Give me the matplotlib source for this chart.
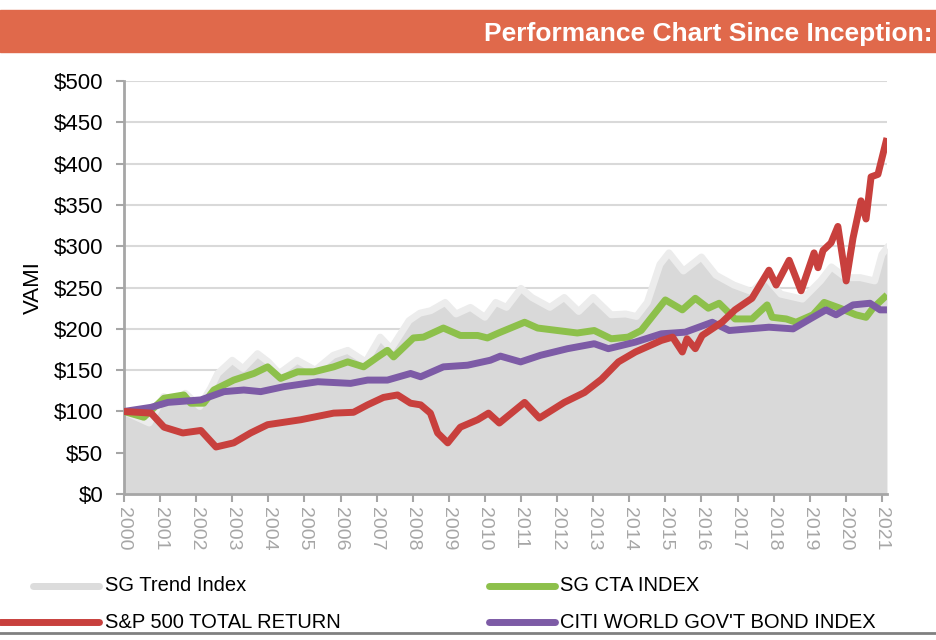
import matplotlib.pyplot as plt
from matplotlib.lines import Line2D
from matplotlib.patches import Rectangle
import numpy as np

plt.rcParams['font.family'] = ['Liberation Sans', 'DejaVu Sans']

# SG Trend Index (grey area)
trend_years = [2000.0, 2000.4, 2000.7, 2001.1, 2001.4, 2001.7, 2002.1, 2002.4, 2002.6, 2003.0,
               2003.3, 2003.7, 2004.0, 2004.3, 2004.8, 2005.3, 2005.8, 2006.2, 2006.7, 2007.1,
               2007.4, 2007.9, 2008.2, 2008.5, 2008.9, 2009.2, 2009.6, 2010.0, 2010.3, 2010.6,
               2011.0, 2011.3, 2011.8, 2012.2, 2012.6, 2013.0, 2013.5, 2013.9, 2014.2, 2014.5,
               2014.85, 2015.1, 2015.5, 2016.0, 2016.4, 2016.9, 2017.4, 2017.8, 2018.2, 2018.8,
               2019.3, 2019.6, 2020.0, 2020.4, 2020.8, 2021.0, 2021.14]
trend_vals = [100, 92, 86, 118, 112, 122, 106, 128, 146, 162,
              152, 170, 160, 146, 162, 150, 168, 174, 160, 190,
              176, 210, 219, 222, 232, 218, 226, 214, 232, 226,
              249, 238, 226, 238, 221, 238, 217, 218, 215, 232,
              278, 292, 270, 287, 265, 253, 245, 262, 242, 236,
              258, 275, 262, 262, 258, 290, 298]

# SG CTA Index
cta_years = [2000.0, 2000.55, 2001.11, 2001.66, 2001.85, 2002.21, 2002.49, 2003.04, 2003.6, 2003.98,
             2004.34, 2004.81, 2005.26, 2005.81, 2006.2, 2006.64, 2007.03, 2007.3, 2007.47, 2008.02,
             2008.3, 2008.85, 2009.32, 2009.8, 2010.07, 2010.38, 2011.1, 2011.46, 2012.01, 2012.56,
             2013.03, 2013.5, 2013.97, 2014.33, 2015.0, 2015.47, 2015.83, 2016.19, 2016.49, 2016.93,
             2017.4, 2017.82, 2017.96, 2018.35, 2018.62, 2019.09, 2019.4, 2019.84, 2020.28, 2020.56,
             2020.75, 2021.14]
cta_vals = [100, 93, 116, 120, 110, 110, 126, 138, 146, 154,
            140, 148, 148, 154, 160, 154, 166, 174, 166, 189,
            190, 201, 192, 192, 189, 195, 208, 201, 198, 195,
            198, 188, 190, 198, 235, 223, 237, 225, 231, 212,
            212, 229, 214, 212, 208, 217, 232, 225, 217, 214,
            225, 241]

# S&P 500 Total Return
spx_years = [2000.0, 2000.75, 2001.11, 2001.63, 2002.13, 2002.55, 2003.04, 2003.51, 2003.98, 2004.9,
             2005.81, 2006.36, 2006.75, 2007.19, 2007.58, 2007.94, 2008.22, 2008.49, 2008.69, 2008.97,
             2009.32, 2009.8, 2010.1, 2010.4, 2011.1, 2011.51, 2012.2, 2012.76, 2013.23, 2013.7,
             2014.17, 2014.89, 2015.2, 2015.47, 2015.6, 2015.83, 2016.02, 2016.57, 2016.93, 2017.4,
             2017.87, 2018.07, 2018.43, 2018.76, 2019.12, 2019.23, 2019.37, 2019.59, 2019.78, 2020.01,
             2020.2, 2020.42, 2020.56, 2020.7, 2020.89, 2021.14]
spx_vals = [100, 98, 81, 74, 77, 57, 62, 74, 84, 90,
            98, 99, 108, 117, 120, 110, 108, 98, 74, 62,
            81, 90, 98, 86, 111, 92, 111, 123, 139, 160,
            172, 186, 190, 172, 188, 176, 192, 208, 223, 237,
            271, 253, 283, 246, 292, 274, 295, 304, 324, 258,
            310, 355, 333, 384, 387, 431]

# Citi World Gov't Bond Index
bond_years = [2000.0, 2000.75, 2001.22, 2002.13, 2002.77, 2003.32, 2003.79, 2004.43, 2005.37, 2006.28,
              2006.75, 2007.3, 2007.94, 2008.22, 2008.85, 2009.52, 2010.15, 2010.43, 2010.99, 2011.54,
              2012.29, 2013.03, 2013.42, 2014.17, 2014.89, 2015.55, 2016.3, 2016.77, 2017.87, 2018.54,
              2019.01, 2019.45, 2019.73, 2020.2, 2020.67, 2020.95, 2021.14]
bond_vals = [100, 105, 111, 114, 124, 126, 124, 130, 136, 134,
             138, 138, 146, 142, 154, 156, 162, 167, 160, 168,
             176, 182, 176, 184, 194, 196, 208, 198, 202, 200,
             212, 223, 217, 229, 231, 223, 223]

year_ticks = list(range(2000, 2022))
y_ticks = list(range(0, 501, 50))

fig = plt.figure(figsize=(9.37, 6.40), dpi=100)

# header band
fig.add_artist(Rectangle((0, 0.919), 1, 0.066, transform=fig.transFigure,
                         color='#E0694B', zorder=0))
fig.text(0.517, 0.947, "Performance Chart Since Inception:", color='white',
         fontsize=19, fontweight='bold', va='center', ha='left')

ax = fig.add_axes([0.1323, 0.228, 0.8143, 0.6454])

ax.fill_between(trend_years, 0, trend_vals, color='#d9d9d9', lw=0, zorder=2)
ax.plot(trend_years, trend_vals, color='#ececec', lw=5, zorder=2.5)
ax.plot(cta_years, cta_vals, color='#8DC04B', lw=5, zorder=3, solid_capstyle='butt')
ax.plot(bond_years, bond_vals, color='#7D5BA6', lw=5, zorder=4, solid_capstyle='butt')
ax.plot(spx_years, spx_vals, color='#C8403D', lw=5, zorder=5, solid_capstyle='butt')

ax.set_xlim(2000, 2021.14)
ax.set_ylim(0, 500)
ax.set_yticks(y_ticks)
ax.set_yticklabels([f"${v}" for v in y_ticks], fontsize=16)
ax.set_xticks(year_ticks)
ax.set_xticklabels([str(y) for y in year_ticks], rotation=-90, fontsize=14,
                   color='#a6a6a6')
ax.set_ylabel("VAMI", fontsize=16, labelpad=7)

ax.grid(axis='y', color='#d9d9d9', lw=1.5)
ax.set_axisbelow(True)
for side in ['top', 'right']:
    ax.spines[side].set_visible(False)
for side in ['left', 'bottom']:
    ax.spines[side].set_color('#a6a6a6')
    ax.spines[side].set_linewidth(2)
ax.tick_params(axis='both', colors='#a6a6a6', length=6, width=1.5)
ax.tick_params(axis='y', labelcolor='black', pad=9)

# legend drawn below the plot
legend_items = [
    ("SG Trend Index", '#dcdcdc', 0.035, 0.106, 0.085),
    ("SG CTA INDEX", '#8DC04B', 0.522, 0.592, 0.085),
    ("S&P 500 TOTAL RETURN", '#C8403D', 0.0, 0.106, 0.028),
    ("CITI WORLD GOV'T BOND INDEX", '#7D5BA6', 0.522, 0.592, 0.028),
]
for label, color, x0, x1, y in legend_items:
    fig.add_artist(Line2D([x0, x1], [y, y], transform=fig.transFigure,
                          color=color, lw=5, solid_capstyle='round'))
    fig.text(x1 + 0.006, y, label, fontsize=14.5, va='center', ha='left')

fig.add_artist(Line2D([0, 1], [0.011, 0.011], transform=fig.transFigure,
                      color='#808080', lw=2))

fig.savefig("out.png", dpi=100)
